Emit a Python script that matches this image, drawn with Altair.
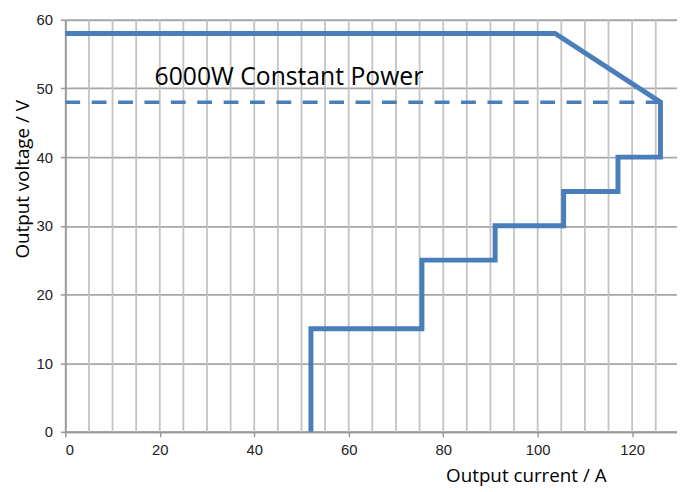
import altair as alt
import pandas as pd

# Output characteristic curve (current A, voltage V)
curve_current = [52, 52, 75.5, 75.5, 91, 91, 105.5, 105.5, 117, 117, 126, 126, 103.7, 0]
curve_voltage = [0, 15, 15, 25, 25, 30, 30, 35, 35, 40, 40, 48, 58, 58]

# Constant power reference (dashed)
cp_current = [0, 126]
cp_voltage = [48, 48]

label_text = ["6000W Constant Power"]
label_x = [18.9]
label_y = [50.5]

grid_x = list(range(5, 130, 5))
x_ticks = [0, 20, 40, 60, 80, 100, 120]
y_ticks = [0, 10, 20, 30, 40, 50, 60]

BLUE = "#4a7ebb"

curve_df = pd.DataFrame({"I": curve_current, "U": curve_voltage, "o": list(range(len(curve_current)))})
cp_df = pd.DataFrame({"I": cp_current, "U": cp_voltage, "o": [0, 1]})
lab_df = pd.DataFrame({"t": label_text, "I": label_x, "U": label_y})
grid_df = pd.DataFrame({"I": grid_x})

xs = alt.Scale(domain=[0, 129.5], nice=False, zero=False)
ys = alt.Scale(domain=[0, 60], nice=False)

x_axis = alt.Axis(
    values=x_ticks, grid=False, title="Output current / A",
    titleX=466, titleY=50, titleBaseline="alphabetic", titleAnchor="middle",
    titleFont="Open Sans", titleFontSize=19, titleFontWeight="normal", titleColor="#000",
    labelFont="Liberation Sans", labelFontSize=15, labelColor="#222", labelPadding=6,
    tickSize=5, tickColor="#999", tickWidth=1.5,
    domainColor="#999", domainWidth=2,
)
y_axis = alt.Axis(
    values=y_ticks, grid=True, gridColor="#a6a6a6", gridWidth=1.8,
    title="Output voltage / V",
    titleX=-37, titleY=161, titleBaseline="alphabetic", titleAngle=270, titleAnchor="middle",
    titleFont="Open Sans", titleFontSize=19, titleFontWeight="normal", titleColor="#000",
    labelFont="Liberation Sans", labelFontSize=15, labelColor="#222", labelPadding=8,
    tickSize=5, tickColor="#999", tickWidth=1.5,
    domainColor="#999", domainWidth=2,
)

grid = alt.Chart(grid_df).mark_rule(color="#c3c3c3", strokeWidth=1.8).encode(
    x=alt.X("I:Q", scale=xs, axis=x_axis),
)

curve = alt.Chart(curve_df).mark_line(color=BLUE, strokeWidth=5, strokeJoin="miter", strokeCap="butt").encode(
    x=alt.X("I:Q", scale=xs, axis=x_axis),
    y=alt.Y("U:Q", scale=ys, axis=y_axis),
    order="o:Q",
)

cp = alt.Chart(cp_df).mark_line(color=BLUE, strokeWidth=3.5, strokeDash=[15, 11.7]).encode(
    x=alt.X("I:Q", scale=xs),
    y=alt.Y("U:Q", scale=ys),
    order="o:Q",
)

lab = alt.Chart(lab_df).mark_text(
    align="left", baseline="alphabetic", font="Open Sans", fontSize=25, color="#000"
).encode(
    x=alt.X("I:Q", scale=xs),
    y=alt.Y("U:Q", scale=ys),
    text="t:N",
)

chart = alt.layer(grid, cp, curve, lab).properties(
    width=619, height=417,
    autosize=alt.AutoSizeParams(type="none"),
    padding={"left": 58, "top": 9, "right": 0, "bottom": 58},
).configure_view(stroke=None).configure(background="white")

chart.save("out.html", embed_options={"renderer": "svg", "actions": False})
